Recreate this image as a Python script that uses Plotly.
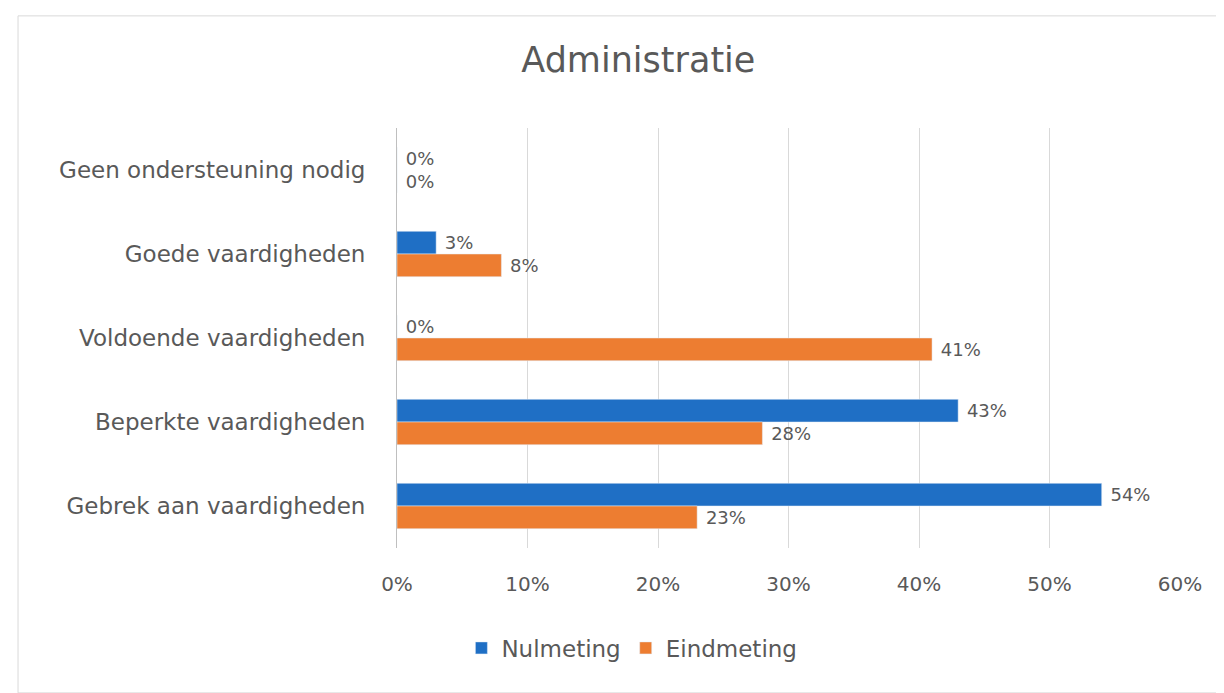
import plotly.graph_objects as go

categories = ["Geen ondersteuning nodig", "Goede vaardigheden", "Voldoende vaardigheden",
              "Beperkte vaardigheden", "Gebrek aan vaardigheden"]
nulmeting = [0, 3, 0, 43, 54]
eindmeting = [0, 8, 41, 28, 23]

grey = "#595959"
fnt = "DejaVu Sans, sans-serif"

fig = go.Figure()
fig.add_trace(go.Bar(
    y=categories, x=nulmeting, name="Nulmeting", orientation="h",
    marker_color="#1F6FC5", text=[f" {v}%" for v in nulmeting], textposition="outside",
    textfont=dict(size=18, color=grey), cliponaxis=False))
fig.add_trace(go.Bar(
    y=categories, x=eindmeting, name="Eindmeting", orientation="h",
    marker_color="#ED7D31", text=[f" {v}%" for v in eindmeting], textposition="outside",
    textfont=dict(size=18, color=grey), cliponaxis=False))

fig.update_layout(
    width=1224, height=693,
    margin=dict(l=389, r=52, t=120, b=153),
    barmode="group", bargap=0.46, bargroupgap=0,
    plot_bgcolor="white", paper_bgcolor="white",
    font=dict(family=fnt, color=grey, size=18),
    title=dict(text="Administratie", x=0.515, xref="container", xanchor="center",
               y=0.925, yref="container", yanchor="middle",
               font=dict(size=35, color=grey)),
    legend=dict(orientation="h", x=0.3, xanchor="center", y=-0.238, yanchor="middle",
                font=dict(size=23, color=grey), itemwidth=30),
    showlegend=True,
)
fig.update_xaxes(range=[0, 60], dtick=10, ticksuffix="%", showgrid=True,
                 gridcolor="#d9d9d9", gridwidth=1, zeroline=False, showline=False,
                 ticks="", ticklabelstandoff=22, tickfont=dict(size=20, color=grey))
fig.update_yaxes(autorange="reversed", showline=True, linecolor="#bfbfbf",
                 ticks="", ticklabelstandoff=26, tickfont=dict(size=23, color=grey))

# light border around the chart area
fig.add_shape(type="rect", xref="paper", yref="paper",
              x0=-0.484, x1=1.055, y0=-0.345, y1=1.267,
              line=dict(color="#d9d9d9", width=1), layer="below")

fig.write_html("out.html")
